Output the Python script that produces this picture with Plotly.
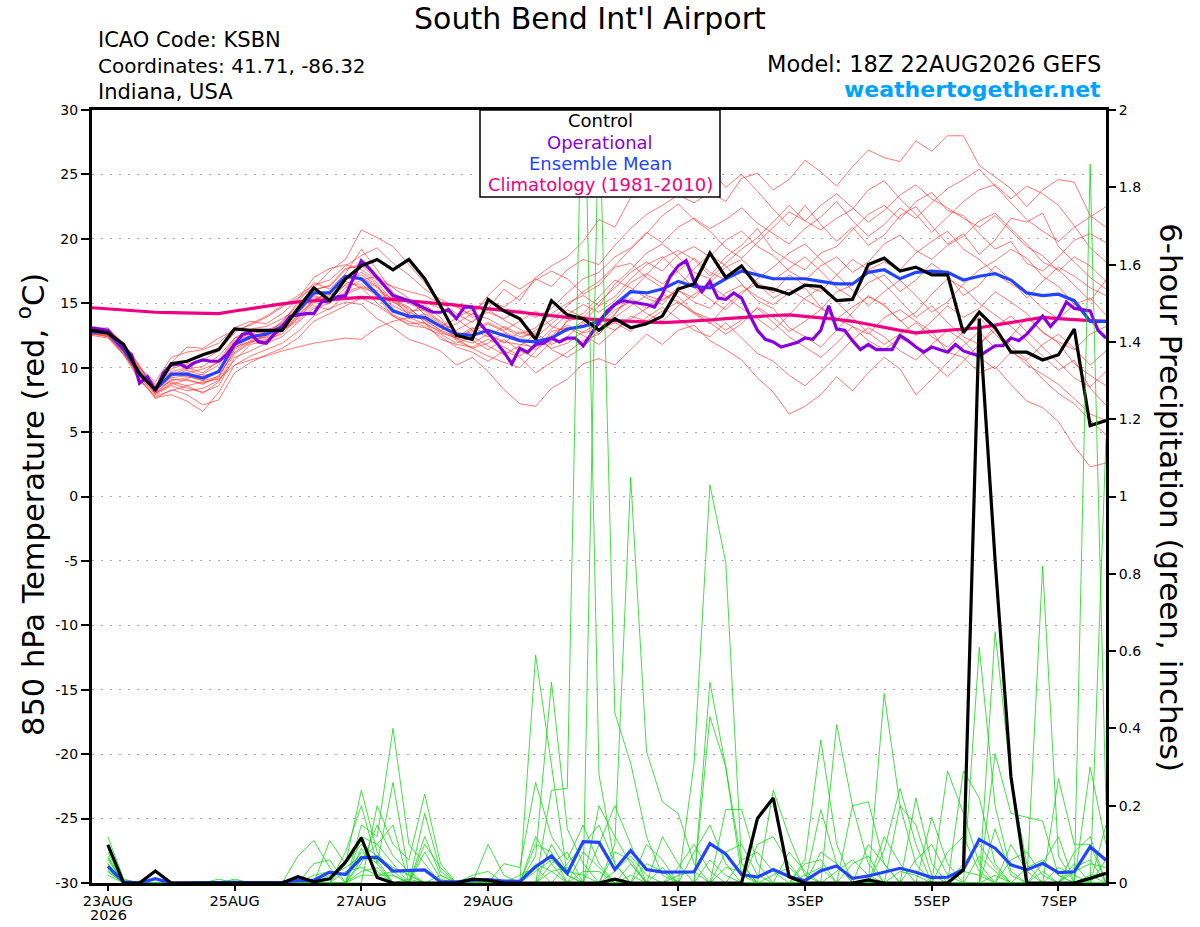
import pandas as pd
import plotly.graph_objects as go

FONT = "DejaVu Sans, Liberation Sans, Arial, sans-serif"

# ---------------- time axes ----------------
temp_times = pd.date_range("2026-08-22 18:00", periods=65, freq="6h")
oper_times = pd.date_range("2026-08-22 18:00", periods=129, freq="3h")
prcp_times = pd.date_range("2026-08-23 00:00", periods=64, freq="6h")

tick_dates = ["2026-08-23", "2026-08-25", "2026-08-27", "2026-08-29",
              "2026-09-01", "2026-09-03", "2026-09-05", "2026-09-07"]
tick_labels = ["23AUG", "25AUG", "27AUG", "29AUG", "1SEP", "3SEP", "5SEP", "7SEP"]
year_label = "2026"

temp_ticks = [-30, -25, -20, -15, -10, -5, 0, 5, 10, 15, 20, 25, 30]
temp_tick_labels = ["-30", "-25", "-20", "-15", "-10", "-5", "0", "5", "10", "15", "20", "25", "30"]
prcp_ticks = [0, 0.2, 0.4, 0.6, 0.8, 1.0, 1.2, 1.4, 1.6, 1.8, 2.0]
prcp_tick_labels = ["0", "0.2", "0.4", "0.6", "0.8", "1", "1.2", "1.4", "1.6", "1.8", "2"]

legend_labels = ["Control", "Operational", "Ensemble Mean", "Climatology (1981-2010)"]

# ---------------- 850 hPa temperature (deg C), 6-hourly ----------------
control_temp = [
    12.9, 12.7, 11.8, 9.5, 8.3, 10.3, 10.5, 11.0, 11.4, 13.0, 12.9, 12.9, 12.9,
    14.6, 16.2, 15.2, 16.9, 17.9, 18.4, 17.6, 18.4, 16.9, 14.8, 12.5, 12.2, 15.3,
    14.4, 13.8, 12.2, 15.2, 14.1, 13.8, 12.9, 13.8, 13.1, 13.4, 14.0, 16.1, 16.5,
    18.9, 17.0, 17.9, 16.3, 16.1, 15.7, 16.4, 16.3, 15.2, 15.3, 18.0, 18.5, 17.5,
    17.8, 17.2, 17.2, 12.7, 14.3, 13.1, 11.2, 11.2, 10.6, 11.0, 13.0, 5.5, 5.9,
]
mean_temp = [
    12.8, 12.7, 11.4, 9.6, 8.3, 9.5, 9.5, 9.2, 9.7, 11.8, 12.4, 12.6, 13.2,
    14.4, 15.8, 15.8, 17.1, 16.9, 15.7, 14.4, 14.0, 13.9, 13.2, 12.6, 12.5, 12.9,
    12.5, 12.1, 12.0, 12.3, 13.0, 13.2, 13.6, 14.9, 15.9, 15.8, 16.1, 16.7, 16.3,
    16.2, 16.9, 17.5, 17.2, 16.9, 16.9, 16.9, 16.7, 16.5, 16.5, 17.4, 17.6, 16.9,
    17.4, 17.5, 17.4, 16.8, 17.1, 17.3, 16.8, 15.8, 15.6, 15.7, 15.2, 13.6, 13.6,
]
climo_temp = [
    14.65, 14.55, 14.45, 14.38, 14.3, 14.27, 14.25, 14.22, 14.2, 14.4, 14.6, 14.8, 14.95,
    15.1, 15.2, 15.3, 15.4, 15.45, 15.4, 15.3, 15.2, 15.1, 15.0, 14.85, 14.7, 14.6,
    14.45, 14.3, 14.15, 14.0, 13.9, 13.8, 13.7, 13.65, 13.6, 13.55, 13.5, 13.55, 13.6,
    13.7, 13.8, 13.9, 14.0, 14.05, 14.1, 14.0, 13.9, 13.75, 13.6, 13.35, 13.1, 12.9,
    12.7, 12.8, 12.9, 13.0, 13.1, 13.3, 13.5, 13.7, 13.9, 13.8, 13.7, 13.65, 13.6,
]
# operational run, 3-hourly
oper_temp = [
    13.1, 13.0, 12.9, 12.2, 11.5, 11.0, 8.8, 9.3, 8.2, 9.6, 10.2, 10.3, 10.0, 10.4, 10.6, 10.5,
    10.5, 11.0, 11.8, 12.6, 12.7, 12.0, 11.9, 12.6, 13.2, 14.0, 14.1, 14.2, 14.2, 15.1, 15.2, 15.5,
    15.6, 17.0, 18.3, 17.7, 17.0, 16.3, 15.6, 15.4, 15.2, 14.9, 14.6, 14.3, 14.3, 14.5, 13.8, 14.7,
    14.7, 13.4, 12.7, 12.0, 11.2, 10.3, 11.5, 11.2, 11.8, 11.9, 12.3, 12.0, 12.3, 12.3, 11.7, 12.6,
    13.4, 14.4, 14.9, 15.2, 15.1, 15.0, 14.9, 14.7, 15.7, 17.1, 17.9, 18.3, 16.7, 15.9, 16.7, 15.4,
    15.3, 15.8, 15.4, 14.1, 12.9, 12.2, 12.0, 11.6, 11.75, 11.95, 12.3, 12.2, 12.9, 14.8, 13.0, 12.9,
    12.1, 11.4, 11.8, 11.4, 11.4, 11.4, 12.5, 12.1, 11.6, 11.2, 11.6, 11.4, 11.2, 11.8, 11.3, 11.1,
    10.9, 11.3, 11.7, 11.7, 12.3, 12.1, 12.6, 13.3, 14.0, 13.2, 13.9, 15.1, 14.6, 14.5, 14.4, 12.9,
    12.3,
]

# ensemble members (temperature)
red_m01 = [12.9, 12.8, 11.7, 9.9, 8.6, 9.9, 10.3, 10.6, 11.3, 12.7, 13.4, 14.0, 14.8,
           15.6, 16.4, 16.8, 17.9, 18.7, 19.3, 18.1, 17.2, 16.1, 15.3, 14.7, 14.1, 15.6,
           16.8, 16.1, 16.9, 16.3, 17.6, 18.4, 18.0, 19.5, 20.8, 21.9, 22.6, 23.4, 22.8,
           23.6, 22.9, 24.7, 25.1, 23.8, 24.6, 26.1, 25.2, 24.1, 25.6, 26.9, 26.3, 26.0,
           27.6, 26.8, 28.0, 28.0, 25.7, 24.8, 23.9, 22.5, 23.8, 24.6, 24.4, 21.8, 20.9]
red_m02 = [12.6, 12.9, 11.9, 10.2, 8.1, 10.4, 11.6, 11.5, 12.3, 12.9, 13.3, 13.9, 14.7,
           15.4, 16.2, 17.5, 18.4, 20.7, 20.1, 19.4, 18.0, 16.6, 15.1, 14.2, 13.5, 14.6,
           16.1, 15.2, 17.0, 17.9, 18.6, 19.8, 21.5, 20.9, 23.2, 24.6, 25.9, 26.6, 26.8,
           25.4, 24.0, 25.0, 23.7, 22.3, 21.0, 22.6, 21.1, 19.8, 20.9, 19.5, 20.3, 21.8,
           22.5, 21.0, 19.6, 20.4, 18.8, 19.9, 21.6, 21.3, 22.0, 19.4, 18.2, 17.0, 16.1]
red_m03 = [12.7, 12.5, 11.1, 9.3, 7.9, 8.6, 8.2, 8.4, 9.0, 10.6, 11.8, 12.1, 12.9,
           13.8, 15.2, 15.9, 16.7, 16.2, 15.0, 14.1, 13.6, 13.2, 12.4, 11.6, 11.2, 10.5,
           11.3, 10.8, 9.6, 10.4, 11.2, 12.1, 12.6, 13.9, 14.8, 15.6, 15.2, 16.0, 15.1,
           14.6, 15.8, 16.4, 15.5, 14.9, 15.8, 16.2, 14.7, 13.8, 13.2, 12.6, 13.9, 14.5,
           13.6, 12.8, 11.2, 10.8, 9.6, 10.1, 8.7, 7.4, 6.9, 5.8, 3.9, 2.3, 2.6]
red_m04 = [12.9, 12.6, 11.2, 9.1, 7.7, 7.9, 7.4, 6.6, 8.1, 10.2, 10.9, 11.4, 11.9,
           12.8, 14.0, 14.6, 15.1, 14.9, 13.8, 13.1, 12.2, 11.8, 11.3, 10.2, 10.8, 9.7,
           8.3, 7.2, 7.0, 8.4, 9.1, 10.3, 10.7, 10.2, 11.4, 12.6, 11.8, 12.9, 13.3,
           12.1, 11.4, 10.6, 9.2, 8.1, 6.4, 7.0, 7.9, 9.3, 8.2, 9.6, 10.8, 9.9,
           7.9, 9.1, 10.4, 11.7, 12.8, 11.5, 12.4, 13.9, 12.8, 11.9, 10.3, 9.4, 8.6]
red_m05 = [13.0, 12.8, 11.5, 9.7, 8.0, 9.1, 9.0, 8.8, 9.2, 11.4, 12.1, 12.4, 13.0,
           14.7, 15.9, 15.4, 16.8, 17.4, 16.6, 15.1, 14.6, 13.7, 12.9, 13.4, 14.2, 13.8,
           13.1, 12.4, 12.7, 11.8, 12.4, 13.5, 12.6, 14.1, 15.9, 17.2, 18.5, 19.1, 18.4,
           17.1, 18.6, 19.5, 20.8, 19.1, 18.3, 17.6, 18.9, 19.4, 20.7, 21.9, 22.6, 21.5,
           22.9, 23.6, 22.2, 21.8, 20.4, 19.2, 19.8, 18.1, 17.5, 18.6, 19.9, 20.4, 19.7]
red_m06 = [12.6, 12.4, 11.0, 9.4, 8.4, 8.9, 8.6, 8.0, 8.9, 11.1, 11.9, 12.5, 13.6,
           14.9, 16.1, 16.3, 17.6, 18.1, 17.0, 15.6, 14.4, 14.5, 13.6, 12.8, 12.1, 11.4,
           12.2, 11.3, 10.8, 12.0, 13.7, 14.2, 15.5, 16.8, 16.2, 15.4, 14.9, 16.3, 17.7,
           18.8, 17.9, 16.5, 15.2, 14.6, 13.1, 12.4, 11.6, 12.9, 14.3, 15.6, 14.8, 13.7,
           12.5, 13.6, 14.8, 13.9, 14.6, 15.9, 15.1, 14.2, 12.7, 12.0, 11.4, 12.6, 13.2]
red_m07 = [12.8, 12.9, 11.3, 9.9, 8.7, 9.7, 10.0, 9.6, 10.5, 12.3, 12.6, 12.9, 13.4,
           14.2, 15.6, 15.2, 16.5, 17.0, 16.3, 14.8, 14.2, 14.9, 13.9, 12.2, 13.0, 13.5,
           12.9, 13.6, 14.4, 13.2, 12.8, 13.6, 14.8, 16.5, 17.6, 18.9, 19.6, 18.6, 17.4,
           16.9, 18.1, 19.2, 20.1, 21.3, 22.6, 21.4, 20.7, 21.6, 22.3, 23.8, 24.5, 23.1,
           21.9, 20.5, 21.7, 22.9, 23.8, 24.2, 23.1, 24.1, 23.5, 22.6, 21.0, 19.3, 18.2]
red_m08 = [12.7, 12.6, 11.6, 9.4, 8.2, 9.3, 9.8, 9.4, 9.6, 11.6, 12.0, 12.2, 12.6,
           13.9, 15.0, 15.6, 16.4, 16.5, 15.5, 14.0, 13.4, 13.5, 12.7, 12.3, 11.9, 12.6,
           12.0, 11.8, 11.6, 12.5, 13.3, 12.7, 13.0, 14.2, 15.4, 14.6, 15.3, 16.0, 15.4,
           16.6, 17.8, 18.4, 17.3, 16.8, 17.7, 18.6, 17.5, 16.2, 15.4, 16.6, 17.2, 15.9,
           16.8, 18.1, 17.2, 15.6, 16.4, 17.9, 16.8, 15.4, 16.7, 17.8, 17.1, 16.2, 15.6]
red_m09 = [12.9, 12.7, 11.5, 9.5, 8.3, 9.6, 9.3, 9.0, 9.8, 11.9, 12.8, 12.7, 13.5,
           15.1, 16.6, 16.1, 17.3, 19.2, 17.6, 15.8, 15.0, 14.4, 13.5, 12.1, 11.5, 10.9,
           10.4, 10.0, 11.3, 12.8, 13.1, 12.5, 11.8, 12.9, 14.0, 13.6, 14.4, 15.1, 14.2,
           13.4, 14.8, 15.9, 16.5, 15.4, 16.1, 15.3, 14.6, 13.8, 14.7, 15.5, 14.9, 13.6,
           14.3, 15.7, 16.9, 16.2, 15.0, 14.1, 13.2, 12.1, 10.9, 9.8, 10.6, 8.4, 7.1]
red_m10 = [12.8, 12.8, 11.4, 9.8, 8.5, 9.5, 9.9, 10.1, 10.9, 12.3, 13.0, 13.2, 13.8,
           14.6, 16.0, 16.4, 17.7, 17.9, 16.9, 15.4, 15.2, 15.1, 14.6, 13.9, 14.5, 15.2,
           14.7, 15.6, 16.8, 17.5, 16.9, 15.7, 16.4, 17.8, 18.1, 17.0, 16.2, 15.5, 14.3,
           13.5, 12.6, 13.4, 14.7, 13.9, 12.8, 13.6, 14.5, 15.9, 16.4, 17.6, 18.2, 17.6,
           18.9, 19.8, 20.6, 19.2, 18.4, 17.3, 16.5, 15.8, 14.6, 13.8, 14.9, 15.4, 14.1]
red_m11 = [12.6, 12.5, 11.2, 9.3, 8.0, 8.8, 8.4, 8.1, 8.6, 10.8, 11.3, 11.9, 12.4,
           13.5, 14.6, 15.0, 15.9, 16.3, 16.0, 15.3, 14.7, 13.5, 12.2, 11.8, 11.6, 12.2,
           11.6, 10.9, 11.8, 13.0, 14.1, 14.9, 14.3, 15.2, 16.6, 17.3, 16.5, 17.5, 18.5,
           17.4, 16.8, 17.9, 16.6, 15.8, 17.2, 16.4, 15.9, 17.2, 18.4, 17.6, 16.5, 15.2,
           13.9, 14.8, 13.5, 12.4, 11.8, 13.2, 14.0, 12.8, 11.6, 10.4, 9.2, 8.5, 9.7]
red_m12 = [13.1, 12.9, 11.8, 10.0, 8.9, 10.8, 11.2, 11.4, 11.9, 13.1, 13.6, 13.4, 14.2,
           15.3, 17.0, 17.7, 18.0, 17.6, 16.8, 16.3, 15.9, 15.6, 15.0, 14.8, 13.9, 14.3,
           13.8, 14.5, 13.9, 14.6, 15.8, 16.9, 17.4, 18.6, 19.3, 20.5, 19.7, 20.9, 21.6,
           20.8, 21.5, 22.4, 21.2, 20.4, 19.6, 20.8, 21.7, 22.9, 21.4, 20.2, 21.1, 22.4,
           21.6, 22.8, 23.9, 24.6, 25.4, 24.1, 22.8, 21.5, 20.6, 19.8, 20.9, 21.7, 22.5]
red_m13 = [12.7, 12.6, 11.4, 9.2, 7.6, 8.3, 7.9, 7.1, 7.5, 9.6, 10.4, 11.0, 11.5,
           12.3, 13.6, 14.2, 14.8, 15.4, 14.8, 14.0, 13.3, 13.1, 12.6, 11.9, 12.4, 11.7,
           11.0, 11.7, 12.6, 11.4, 10.8, 11.6, 12.9, 13.5, 12.8, 13.9, 14.7, 13.8, 12.9,
           12.4, 13.5, 12.3, 11.1, 10.5, 9.4, 8.6, 9.7, 10.9, 12.2, 13.1, 12.4, 11.3,
           10.6, 11.8, 12.9, 12.1, 10.8, 9.9, 11.2, 10.5, 9.1, 8.0, 7.2, 5.9, 4.8]
red_m14 = [12.5, 12.3, 11.0, 9.0, 7.8, 8.2, 8.6, 8.9, 9.1, 10.2, 10.6, 10.9, 11.3,
           11.6, 11.9, 12.1, 12.3, 12.2, 13.1, 13.6, 13.9, 13.4, 12.8, 12.3, 11.5, 11.9,
           12.7, 12.1, 11.4, 12.2, 13.6, 14.0, 13.3, 14.5, 15.1, 14.2, 13.6, 14.8, 15.7,
           16.4, 15.5, 14.6, 13.8, 12.9, 14.1, 15.4, 16.2, 15.1, 13.9, 12.7, 11.8, 12.6,
           13.5, 12.4, 11.6, 12.8, 13.9, 12.6, 11.4, 10.2, 9.5, 8.7, 7.6, 6.4, 5.9]
red_m15 = [13.0, 13.1, 11.9, 10.1, 8.3, 9.2, 9.4, 9.0, 9.3, 11.5, 12.3, 12.0, 12.8,
           14.0, 15.3, 15.7, 16.9, 17.2, 16.4, 14.6, 13.8, 14.2, 13.4, 12.9, 13.6, 14.5,
           13.7, 13.0, 12.3, 13.4, 14.5, 13.9, 15.1, 16.2, 17.4, 18.2, 17.5, 18.8, 19.4,
           18.6, 19.9, 20.6, 19.4, 18.7, 17.5, 16.8, 17.9, 18.6, 17.4, 18.2, 19.6, 20.3,
           19.1, 18.4, 19.5, 20.2, 21.4, 22.0, 20.8, 19.6, 18.2, 17.6, 16.4, 15.2, 16.8]
red_m16 = [12.8, 12.6, 11.3, 9.6, 8.1, 9.0, 9.2, 9.5, 10.2, 12.0, 12.2, 12.8, 13.1,
           14.3, 15.5, 15.0, 16.2, 16.8, 17.1, 16.2, 15.4, 14.1, 13.2, 13.8, 12.9, 12.4,
           13.2, 12.6, 13.1, 14.2, 15.0, 15.6, 14.8, 15.5, 16.9, 18.0, 18.6, 17.4, 16.2,
           15.3, 14.5, 15.7, 16.9, 17.8, 18.9, 19.6, 18.4, 17.2, 16.0, 14.8, 15.9, 16.8,
           15.6, 14.3, 15.1, 16.5, 17.6, 18.3, 19.2, 18.5, 17.1, 16.3, 14.9, 13.6, 12.4]
red_m17 = [12.9, 12.7, 11.6, 9.7, 8.4, 9.4, 9.6, 9.9, 10.4, 12.1, 12.5, 12.3, 12.9,
           13.6, 14.8, 14.5, 15.7, 16.2, 15.8, 15.1, 14.3, 13.8, 13.3, 12.5, 12.8, 13.4,
           12.8, 12.2, 12.9, 13.7, 14.8, 15.9, 16.7, 17.9, 19.2, 20.4, 21.8, 22.7, 21.5,
           20.6, 19.3, 18.5, 19.7, 20.9, 22.1, 21.4, 22.6, 23.5, 22.4, 21.3, 22.2, 23.4,
           24.2, 23.1, 22.4, 21.6, 20.9, 21.8, 20.6, 19.4, 18.7, 17.5, 18.6, 17.9, 16.7]
red_m18 = [12.7, 12.4, 11.1, 9.5, 8.0, 8.7, 9.1, 8.7, 9.4, 11.2, 12.0, 12.6, 12.9,
           14.1, 15.2, 15.9, 17.0, 16.9, 16.2, 15.3, 14.1, 13.7, 12.9, 12.4, 13.1, 12.6,
           11.9, 12.8, 12.3, 11.5, 11.9, 12.8, 13.4, 12.9, 13.8, 14.6, 15.7, 15.1, 14.3,
           13.8, 12.9, 13.7, 14.6, 13.5, 12.4, 11.6, 10.8, 11.9, 13.2, 12.1, 11.4, 12.3,
           11.6, 10.4, 9.3, 10.5, 11.8, 12.9, 11.7, 10.6, 11.8, 12.6, 11.5, 10.2, 11.3]

# ---------------- 6-hour precipitation (inches) ----------------
control_prcp = [
    0.099, 0, 0, 0.031, 0, 0, 0, 0, 0, 0, 0, 0, 0.016, 0.003, 0.011, 0.054,
    0.117, 0.014, 0, 0, 0, 0, 0, 0.01, 0.007, 0, 0, 0, 0, 0, 0, 0,
    0.01, 0, 0, 0, 0, 0, 0, 0, 0, 0.167, 0.22, 0.016, 0, 0, 0, 0,
    0.008, 0, 0, 0, 0, 0, 0.034, 1.46, 0.835, 0.275, 0, 0, 0, 0, 0.012, 0.025,
]
mean_prcp = [
    0.043, 0.003, 0, 0.011, 0, 0.001, 0.001, 0.002, 0.002, 0.001, 0.001, 0.002, 0.007, 0.007, 0.028, 0.022,
    0.065, 0.067, 0.031, 0.033, 0.034, 0.003, 0.003, 0.007, 0.009, 0.005, 0.004, 0.042, 0.07, 0.025, 0.107, 0.105,
    0.035, 0.084, 0.035, 0.028, 0.029, 0.029, 0.102, 0.075, 0.022, 0.015, 0.035, 0.017, 0.006, 0.032, 0.044, 0.012,
    0.018, 0.029, 0.038, 0.028, 0.014, 0.015, 0.035, 0.113, 0.09, 0.047, 0.034, 0.051, 0.027, 0.029, 0.094, 0.059,
]

grn_m01 = [.12, .01, 0, 0, 0, 0, 0, 0, 0, 0, 0, 0, 0, 0, .11, .05,
           .24, .08, .02, 0, 0, 0, 0, 0, 0, 0, 0, .12, .05, 0, 0, 2.04,
           .44, .31, .12, .02, 0, 0, 0, 0, 0, 0, 0, 0, .06, .37, .1, 0,
           0, 0, 0, .22, .05, 0, 0, 0, .14, .02, 0, 0, 0, 0, .3, .1]
grn_m02 = [.09, 0, 0, 0, 0, 0, 0, 0, 0, 0, 0, 0, .07, .11, .04, 0,
           0, .2, .1, .06, .23, .05, 0, 0, 0, 0, 0, 0, .24, .245, 2.26, .28,
           .05, 0, 0, 0, 0, 0, .43, .3, .05, 0, 0, 0, 0, 0, 0, 0,
           0, .49, .2, .05, 0, 0, 0, .61, .2, .03, 0, 0, 0, .05, 0, 0]
grn_m03 = [.07, 0, 0, 0, 0, 0, 0, 0, .01, 0, 0, 0, 0, 0, 0, 0,
           .15, .12, .4, .1, .05, 0, 0, 0, 0, 0, 0, .59, .3, .02, 0, 0,
           0, .05, 0, 0, 0, .31, 1.03, .83, .05, 0, 0, 0, 0, 0, .41, .2,
           .05, 0, 0, 0, 0, 0, .29, .22, .05, 0, 0, .82, .07, 0, 1.86, .2]
grn_m04 = [.05, 0, 0, 0, 0, 0, 0, 0, 0, 0, 0, 0, 0, 0, 0, .08,
           .2, .05, .26, .02, 0, 0, 0, 0, .1, .02, 0, .07, .52, .14, .05, 0,
           .1, 1.05, .34, .21, .18, .05, 0, 0, 0, 0, .24, .12, .02, 0, 0, 0,
           0, .085, .245, .1, 0, 0, 0, 0, .65, .27, .05, 0, 0, 0, 0, 1.15]
grn_m05 = [.04, 0, 0, 0, 0, 0, 0, 0, 0, 0, 0, 0, 0, .05, .06, 0,
           .12, .1, .15, 0, .18, .03, 0, 0, 0, .05, .04, .26, .12, .06, .15, .05,
           0, 0, 0, 0, 0, 0, .52, .3, .02, 0, 0, 0, 0, .19, .05, 0,
           0, 0, 0, 0, 0, .29, .18, .05, 0, 0, 0, 0, .27, .1, .1, 0]
grn_m06 = [.03, 0, 0, 0, 0, 0, 0, 0, 0, 0, 0, 0, .02, 0, 0, 0,
           .09, .03, 0, 0, .12, .02, 0, 0, 0, 0, 0, 0, 0, .05, .1, .15,
           .05, 0, 0, 0, 0, 0, 0, .19, .19, .05, 0, 0, 0, 0, 0, .2,
           .21, .05, 0, 0, .17, .05, 0, 0, .335, .18, .17, .16, .02, 0, 0, 0]
grn_m07 = [.035, 0, 0, 0, 0, 0, 0, .01, 0, 0, 0, 0, 0, 0, 0, 0,
           .06, .1, .05, 0, 0, 0, 0, .02, .03, 0, 0, .1, .08, 0, 0, .1,
           .2, .1, 0, .12, .05, 0, 0, 0, 0, .1, .12, .05, 0, 0, 0, 0,
           0, 0, .2, .15, .02, 0, 0, 0, 0, .1, .03, 0, 0, .08, .12, 0]
grn_m08 = [.06, 0, 0, 0, 0, 0, 0, 0, 0, 0, 0, 0, 0, 0, 0, .05,
           .1, .07, .04, .02, 0, 0, 0, 0, 0, 0, 0, .05, .03, 0, .08, .04,
           0, 0, .1, .06, 0, .08, .15, .05, 0, 0, 0, .08, .03, 0, 0, 0,
           .1, .05, 0, 0, 0, 0, .05, .1, .04, 0, 0, .05, .12, 0, 0, .06]
grn_m09 = [.04, 0, .005, 0, 0, 0, 0, 0, 0, 0, 0, 0, 0, .02, .03, .02,
           .08, .05, 0, 0, .08, .01, 0, 0, 0, 0, 0, 0, .05, .08, 0, .2,
           .12, .05, 0, 0, 0, 0, 0, .08, .1, .02, 0, 0, 0, .08, .05, 0,
           0, 0, 0, 0, 0, .08, .12, .03, 0, 0, 0, 0, 0, .04, .06, 0]
grn_m10 = [.05, 0, 0, 0, 0, 0, 0, 0, .005, 0, 0, 0, 0, 0, 0, 0,
           .05, .15, .07, .03, 0, 0, 0, 0, 0, 0, .02, .04, 0, 0, 0, 0,
           .08, .06, 0, 0, .04, .1, .03, 0, 0, 0, 0, 0, .05, .06, 0, 0,
           0, .12, .05, 0, 0, 0, 0, 0, 0, .06, .08, .02, 0, 0, 0, .15]
grn_m11 = [.08, 0, 0, 0, 0, 0, 0, 0, 0, 0, 0, 0, 0, 0, 0, .03,
           .04, .02, .03, 0, .1, .04, 0, 0, 0, 0, 0, 0, .1, .03, .02, 0,
           0, 0, .05, .03, 0, 0, 0, 0, .06, .08, .03, 0, 0, 0, 0, .05,
           .07, 0, 0, .06, .1, .02, 0, 0, 0, 0, .04, .06, .02, 0, 0, 0]
grn_m12 = [.03, 0, 0, 0, 0, 0, 0, 0, 0, 0, 0, 0, 0, 0, 0, 0,
           .03, .04, 0, .01, 0, 0, 0, 0, 0, 0, 0, .03, .06, .02, 0, 0,
           .03, .07, .02, 0, 0, 0, .06, .02, 0, 0, 0, 0, 0, 0, .03, .06,
           .02, 0, 0, 0, 0, 0, 0, .07, .03, 0, 0, 0, 0, .03, .05, .04]
grn_m13 = [.02, 0, 0, 0, 0, 0, 0, 0, 0, 0, 0, 0, 0, 0, 0, 0,
           .02, .02, .02, 0, 0, 0, 0, 0, .01, 0, 0, 0, 0, 0, .03, .03,
           0, 0, 0, 0, .02, .03, 0, 0, 0, 0, .02, .04, 0, 0, 0, 0,
           0, 0, .03, .02, 0, 0, 0, 0, .02, 0, 0, .03, 0, 0, .02, 0]
grn_m14 = [.065, 0, 0, 0, 0, 0, 0, 0, 0, 0, 0, 0, 0, 0, .02, .04,
           .07, .06, 0, 0, 0, .02, 0, 0, 0, 0, 0, 0, .03, .04, 0, 0,
           0, .02, 0, .04, 0, 0, 0, .04, .03, 0, 0, 0, .02, .04, 0, 0,
           0, 0, 0, 0, 0, 0, .03, .02, 0, 0, 0, 0, .04, .02, 0, 0]

red_members = [red_m01, red_m02, red_m03, red_m04, red_m05, red_m06, red_m07, red_m08, red_m09,
               red_m10, red_m11, red_m12, red_m13, red_m14, red_m15, red_m16, red_m17, red_m18]
green_members = [grn_m01, grn_m02, grn_m03, grn_m04, grn_m05, grn_m06, grn_m07,
                 grn_m08, grn_m09, grn_m10, grn_m11, grn_m12, grn_m13, grn_m14]

for n, s in enumerate([control_temp, mean_temp, climo_temp] + red_members):
    assert len(s) == 65, ("temp", n, len(s))
assert len(oper_temp) == 129, len(oper_temp)
for n, s in enumerate([control_prcp, mean_prcp] + green_members):
    assert len(s) == 64, ("prcp", n, len(s))

# ---------------- colours ----------------
C_RED = "rgba(255,45,45,0.72)"
C_GREEN = "rgba(20,215,20,0.9)"
C_OPER = "#8800DD"
C_MEAN = "#2244FF"
C_CLIMO = "#EE0080"
C_CTRL = "#000000"
legend_colors = [C_CTRL, C_OPER, C_MEAN, C_CLIMO]

fig = go.Figure()
for m in red_members:
    fig.add_trace(go.Scatter(x=temp_times, y=m, mode="lines", yaxis="y",
                             line=dict(color=C_RED, width=0.9), hoverinfo="skip", showlegend=False))
fig.add_trace(go.Scatter(x=temp_times, y=climo_temp, mode="lines", yaxis="y",
                         line=dict(color=C_CLIMO, width=3.2), showlegend=False))
fig.add_trace(go.Scatter(x=temp_times, y=mean_temp, mode="lines", yaxis="y",
                         line=dict(color=C_MEAN, width=3.2), showlegend=False))
fig.add_trace(go.Scatter(x=oper_times, y=oper_temp, mode="lines", yaxis="y",
                         line=dict(color=C_OPER, width=3.2), showlegend=False))
fig.add_trace(go.Scatter(x=temp_times, y=control_temp, mode="lines", yaxis="y",
                         line=dict(color=C_CTRL, width=3.2), showlegend=False))
for m in green_members:
    fig.add_trace(go.Scatter(x=prcp_times, y=m, mode="lines", yaxis="y2",
                             line=dict(color=C_GREEN, width=0.9), hoverinfo="skip", showlegend=False))
fig.add_trace(go.Scatter(x=prcp_times, y=mean_prcp, mode="lines", yaxis="y2",
                         line=dict(color=C_MEAN, width=3.2), showlegend=False))
fig.add_trace(go.Scatter(x=prcp_times, y=control_prcp, mode="lines", yaxis="y2",
                         line=dict(color=C_CTRL, width=3.2), showlegend=False))

# plot-area geometry (pixels)
L, R, T, B = 92, 1106, 110, 883


def px(x):
    return (x - L) / (R - L)


def py(y):
    return (B - y) / (B - T)


ann = []
ann.append(dict(text="South Bend Int'l Airport", x=px(590), y=py(19), xanchor="center", yanchor="middle",
                font=dict(size=30, color="black")))
for txt, yy, fs in [("ICAO Code: KSBN", 40, 21), ("Coordinates: 41.71, -86.32", 66, 20),
                    ("Indiana, USA", 92, 21)]:
    ann.append(dict(text=txt, x=px(96), y=py(yy), xanchor="left", yanchor="middle",
                    font=dict(size=fs, color="black")))
ann.append(dict(text="Model: 18Z 22AUG2026 GEFS", x=px(1103), y=py(64), xanchor="right", yanchor="middle",
                font=dict(size=22.5, color="black")))
ann.append(dict(text="<b>weathertogether.net</b>", x=px(1103), y=py(89), xanchor="right", yanchor="middle",
                font=dict(size=22, color="#00A2FF")))
for lbl, col, yy in zip(legend_labels, legend_colors, [121, 142, 163.5, 185]):
    ann.append(dict(text=lbl, x=px(600), y=py(yy), xanchor="center", yanchor="middle",
                    font=dict(size=18, color=col)))
ann.append(dict(text="850 hPa Temperature (red, <sup>o</sup>C)", x=px(31), y=py(505), textangle=-90,
                xanchor="center", yanchor="middle", font=dict(size=30.5, color="black")))
ann.append(dict(text="6-hour Precipitation (green, inches)", x=px(1171), y=py(497), textangle=90,
                xanchor="center", yanchor="middle", font=dict(size=31, color="black")))
ann.append(dict(text=year_label, x=px(108), y=py(915), xanchor="center", yanchor="middle",
                font=dict(size=14.5, color="black")))
for a in ann:
    a.update(xref="paper", yref="paper", showarrow=False)

legend_box = dict(type="rect", xref="paper", yref="paper", x0=px(480), x1=px(720), y0=py(197), y1=py(110),
                  fillcolor="white", line=dict(color="black", width=1.5), layer="above")

fig.update_layout(
    width=1200, height=927,
    margin=dict(l=L, r=1200 - R, t=T, b=927 - B, pad=0, autoexpand=False),
    paper_bgcolor="white", plot_bgcolor="white",
    font=dict(family=FONT, color="black"),
    showlegend=False,
    annotations=ann,
    shapes=[legend_box],
    xaxis=dict(
        type="date", range=["2026-08-22 18:00", "2026-09-07 18:00"], automargin=False,
        tickmode="array", tickvals=tick_dates, ticktext=tick_labels,
        ticks="outside", ticklen=5, tickwidth=1.5, tickcolor="black", ticklabelstandoff=-2,
        tickfont=dict(size=14.5), showgrid=False, zeroline=False,
        showline=True, linewidth=3, linecolor="black", mirror=True,
    ),
    yaxis=dict(
        range=[-30, 30], tickmode="array", tickvals=temp_ticks, ticktext=temp_tick_labels,
        automargin=False,
        ticks="outside", ticklen=8, tickwidth=1.5, tickcolor="black",
        tickfont=dict(size=14), showgrid=True, gridcolor="#AAAAAA", gridwidth=1,
        griddash="2px,7px", zeroline=False,
        showline=True, linewidth=3, linecolor="black", mirror=True,
    ),
    yaxis2=dict(
        range=[0, 2], overlaying="y", side="right", tickmode="array", automargin=False,
        tickvals=prcp_ticks, ticktext=prcp_tick_labels,
        ticks="outside", ticklen=7, tickwidth=1.5, tickcolor="black",
        tickfont=dict(size=14), showgrid=False, zeroline=False,
        showline=True, linewidth=3, linecolor="black",
    ),
)

fig.write_html("out.html", config={"displayModeBar": False},
               post_script="document.body.style.margin='0';")
